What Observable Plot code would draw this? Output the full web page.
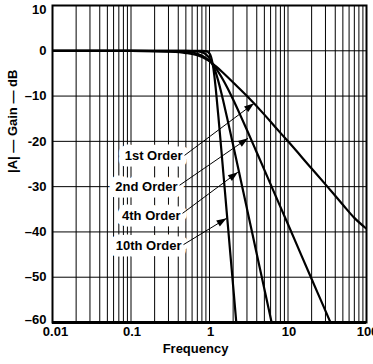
<!DOCTYPE html>
<html>
<head>
<meta charset="utf-8">
<script src="https://cdn.jsdelivr.net/npm/d3@7"></script>
<script src="https://cdn.jsdelivr.net/npm/@observablehq/plot@0.6"></script>
<style>
  html, body { margin: 0; padding: 0; background: #fff; }
</style>
</head>
<body>
<div id="chart"></div>
<script>
// ---- data ----
const freq1 = [0.01, 0.1, 0.3, 0.5, 0.7, 0.9, 1, 1.2, 1.5, 2, 3, 5, 7, 10, 20, 30, 50, 70, 100];
const gain1 = [0, 0, -0.2, -0.5, -1.0, -1.8, -2.3, -3.4, -4.9, -7.0, -10.0, -14.1, -17.0, -20.0, -26.0, -29.5, -34.0, -36.9, -39.3];

const freq2 = [0.01, 0.1, 0.5, 0.7, 0.9, 1, 1.1, 1.2, 1.3, 1.5, 1.7, 2, 2.5, 3, 4, 5, 7, 10, 15, 20, 28, 36];
const gain2 = [0, 0, -0.18, -0.66, -1.61, -2.26, -3.01, -3.83, -4.70, -6.49, -8.26, -10.77, -14.42, -17.5, -22.45, -26.3, -32.15, -38.3, -45.39, -50.4, -56.23, -60.6];

const freq4 = [0.01, 0.1, 0.5, 0.7, 0.8, 0.9, 1, 1.1, 1.2, 1.3, 1.5, 1.7, 2, 2.5, 3, 4, 5, 6.3];
const gain4 = [0, 0, 0, -0.12, -0.33, -0.79, -1.66, -3.01, -4.78, -6.81, -11.13, -15.26, -20.8, -28.53, -34.86, -44.86, -52.61, -60.63];

const freq10 = [0.01, 0.1, 0.5, 0.8, 0.9, 1, 1.05, 1.1, 1.15, 1.2, 1.3, 1.4, 1.5, 1.6, 1.7, 1.85, 2, 2.2];
const gain10 = [0, 0, 0, -0.01, -0.08, -0.6, -1.44, -3.01, -5.36, -8.26, -14.66, -20.97, -26.95, -32.55, -37.82, -45.16, -51.9, -60.2];

const xTicks = [0.01, 0.1, 1, 10, 100];
const xTickLabels = ["0.01", "0.1", "1", "10", "100"];
const yTicks = [10, 0, -10, -20, -30, -40, -50, -60];
const yTickLabels = ["10", "0", "\u201310", "-20", "-30", "\u201340", "\u201350", "\u201360"];

const labelText = ["1st Order", "2nd Order", "4th Order", "10th Order"];
const labelFreq = [0.453, 0.391, 0.428, 0.44];
const labelGain = [-23.3, -30, -36.5, -43];
const leaderFreq = [0.481, 0.415, 0.453, 0.467];
const leaderGain = [-23.1, -29.7, -35.9, -42.8];
const tipFreq = [3.7, 3.1, 2.3, 1.65];
const tipGain = [-11.6, -19.3, -26.8, -37];

const xTitle = "Frequency";
const yTitle = "|A| \u2014 Gain \u2014 dB";

// ---- build tables ----
const series = [
  [freq1, gain1, "1st"], [freq2, gain2, "2nd"], [freq4, gain4, "4th"], [freq10, gain10, "10th"]
];
const curveData = series.flatMap(([f, g, k]) => f.map((v, i) => ({f: v, g: g[i], k})));
const annots = labelText.map((t, i) => ({
  t, lf: labelFreq[i], lg: labelGain[i],
  sf: leaderFreq[i], sg: leaderGain[i], tf: tipFreq[i], tg: tipGain[i]
}));
const xGrid = [];
for (const d of [0.01, 0.1, 1, 10]) for (let m = 1; m <= 9; m++) xGrid.push(+(d * m).toPrecision(3));
xGrid.push(100);
const xMap = new Map(xTicks.map((d, i) => [d, xTickLabels[i]]));
const yMap = new Map(yTicks.map((d, i) => [d, yTickLabels[i]]));
const yTop = yTicks.slice(0, 1), yMid = yTicks.slice(1, -1), yBottom = yTicks.slice(-1);
const xFirst = xTicks.slice(0, 1), xRest = xTicks.slice(1);

const W = 373, H = 364;
const FONT = "'Liberation Sans', Arial, sans-serif";
function options(marks) {
  return {
    width: W, height: H,
    marginLeft: 52, marginRight: 7, marginTop: 5, marginBottom: 42,
    style: {fontFamily: FONT, fontSize: "13px", fontWeight: "bold", color: "black", background: "white"},
    x: {type: "log", domain: [0.01, 100], label: null},
    y: {domain: [-60, 10], label: null},
    marks
  };
}
const yAxisOpts = {tickFormat: d => yMap.get(d) ?? "", tickSize: 0, tickPadding: 6, label: null, fontWeight: "bold"};
const xAxisOpts = {tickFormat: d => xMap.get(d) ?? "", tickSize: 0, tickPadding: 4, label: null, fontWeight: "bold"};

// first pass: get the plot's own scales to orient the arrowheads
const probe = Plot.plot(options([]));
const psx = probe.scale("x"), psy = probe.scale("y");
const sx = psx.apply ? (v => psx.apply(v)) : d3.scaleLog().domain(psx.domain).range(psx.range);
const sy = psy.apply ? (v => psy.apply(v)) : d3.scaleLinear().domain(psy.domain).range(psy.range);
for (const a of annots) {
  const dx = sx(a.tf) - sx(a.sf), dy = sy(a.tg) - sy(a.sg);
  a.angle = Math.atan2(dx, -dy) * 180 / Math.PI;
}

const arrowHead = {
  draw(ctx) {
    ctx.moveTo(0, 0);
    ctx.lineTo(-3.5, 10);
    ctx.lineTo(3.5, 10);
    ctx.closePath();
  }
};

const chart = Plot.plot(options([
  Plot.ruleX(xGrid, {stroke: "black", strokeWidth: 1}),
  Plot.ruleY(yTicks, {stroke: "black", strokeWidth: 1}),
  Plot.text(annots, {x: "lf", y: "lg", text: "t", textAnchor: "end", fill: "black", stroke: "white", strokeWidth: 13, strokeLinejoin: "round", fontSize: 13, fontWeight: "bold"}),
  Plot.line(curveData, {x: "f", y: "g", z: "k", stroke: "black", strokeWidth: 2.2, curve: "monotone-x", clip: true}),
  Plot.link(annots, {x1: "sf", y1: "sg", x2: "tf", y2: "tg", stroke: "black", strokeWidth: 1}),
  Plot.dot(annots, {x: "tf", y: "tg", symbol: arrowHead, rotate: "angle", fill: "black", stroke: "none", r: 4}),
  Plot.frame({stroke: "black", strokeWidth: 2}),
  Plot.ruleY(yBottom, {stroke: "black", strokeWidth: 3}),
  Plot.axisY(yTop, {...yAxisOpts, dy: 4}),
  Plot.axisY(yMid, yAxisOpts),
  Plot.axisY(yBottom, {...yAxisOpts, dy: -3}),
  Plot.axisX(xFirst, {...xAxisOpts, dx: 3}),
  Plot.axisX(xRest, {...xAxisOpts, dx: 1}),
  Plot.text([xTitle], {frameAnchor: "bottom", dx: -14, dy: 30, fontSize: 13, fontWeight: "bold", fill: "black"}),
  Plot.text([yTitle], {frameAnchor: "left", dx: -40, dy: 9, rotate: -90, fontSize: 13, fontWeight: "bold", fill: "black"})
]));
document.getElementById("chart").appendChild(chart);
</script>
</body>
</html>
